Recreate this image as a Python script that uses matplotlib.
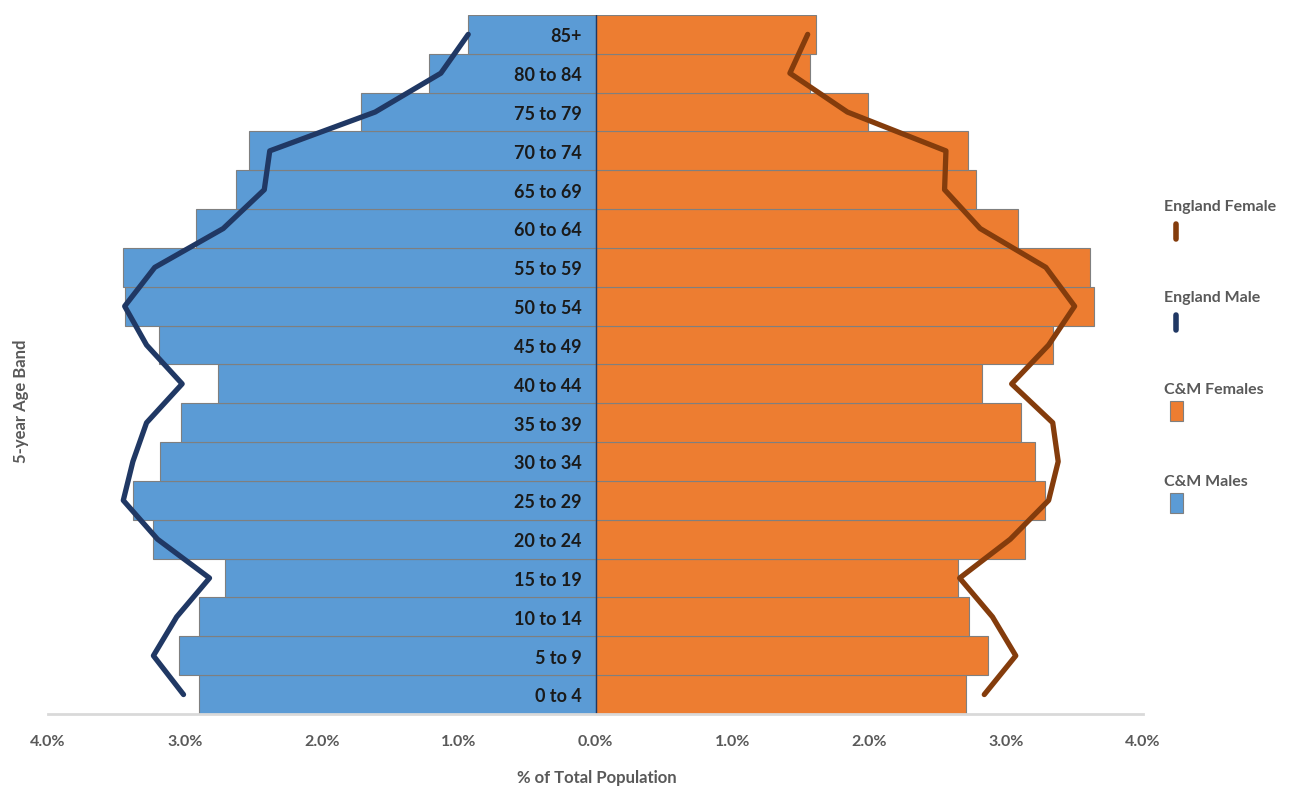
import matplotlib.pyplot as plt
from matplotlib.patches import Rectangle
from matplotlib.lines import Line2D

plt.rcParams['font.family'] = ['Lato', 'DejaVu Sans']

# Faixas etárias (de baixo para cima)
faixas = ["0 to 4", "5 to 9", "10 to 14", "15 to 19", "20 to 24", "25 to 29",
          "30 to 34", "35 to 39", "40 to 44", "45 to 49", "50 to 54", "55 to 59",
          "60 to 64", "65 to 69", "70 to 74", "75 to 79", "80 to 84", "85+"]

# % da população total
cm_homens = [2.90, 3.04, 2.90, 2.71, 3.23, 3.38, 3.18, 3.03, 2.76, 3.19,
             3.44, 3.45, 2.92, 2.63, 2.53, 1.71, 1.22, 0.93]
cm_mulheres = [2.71, 2.87, 2.73, 2.65, 3.14, 3.28, 3.21, 3.11, 2.82, 3.34,
               3.64, 3.61, 3.09, 2.78, 2.72, 1.99, 1.57, 1.61]
ing_homens = [3.01, 3.23, 3.06, 2.82, 3.20, 3.45, 3.38, 3.28, 3.02, 3.28,
              3.44, 3.22, 2.72, 2.42, 2.38, 1.61, 1.13, 0.93]
ing_mulheres = [2.84, 3.07, 2.90, 2.66, 3.03, 3.31, 3.38, 3.34, 3.04, 3.31,
                3.50, 3.29, 2.81, 2.55, 2.56, 1.84, 1.42, 1.55]

azul = '#5B9BD5'
laranja = '#ED7D31'
marinho = '#203864'
marrom = '#843C0C'

fig = plt.figure(figsize=(13.01, 7.87), dpi=100)
ax = fig.add_axes([0.0369, 0.0928, 0.8417, 0.8882])

y = range(len(faixas))
ax.barh(y, [-v for v in cm_homens], height=1.0, color=azul, edgecolor='#7F7F7F', linewidth=0.8)
ax.barh(y, cm_mulheres, height=1.0, color=laranja, edgecolor='#7F7F7F', linewidth=0.8)
ax.plot([-v for v in ing_homens], y, color=marinho, lw=3.8, solid_capstyle='round')
ax.plot(ing_mulheres, y, color=marrom, lw=3.8, solid_capstyle='round')
ax.axvline(0, color='#1F3864', lw=1)

# Rótulos das faixas ao lado do eixo central
for i, f in enumerate(faixas):
    ax.text(-0.1, i - 0.06, f, ha='right', va='center', fontsize=13, fontweight='bold', color='#1a1a1a')

ax.set_xlim(-4, 4)
ax.set_ylim(-0.5, 17.5)
ax.set_xticks([-4, -3, -2, -1, 0, 1, 2, 3, 4])
ax.set_xticklabels([f"{abs(v):.1f}%" for v in range(-4, 5)], fontsize=11.5, color='#595959', fontweight='bold')
ax.tick_params(axis='x', length=0, pad=15)
ax.set_yticks([])
for s in ['top', 'right', 'left']:
    ax.spines[s].set_visible(False)
ax.spines['bottom'].set_color('#D9D9D9')
ax.spines['bottom'].set_linewidth(2)

fig.text(0.4585, 1 / 787, "% of Total Population", ha='center', va='bottom', fontsize=12,
         color='#595959', fontweight='bold')
fig.text(0.016, 0.49, "5-year Age Band", rotation=90, ha='center', va='center', fontsize=12,
         color='#595959', fontweight='bold')

# Legenda manual à direita
legenda = [("England Female", 'line', marrom, 207),
           ("England Male", 'line', marinho, 298),
           ("C&M Females", 'box', laranja, 390),
           ("C&M Males", 'box', azul, 482)]
for nome, tipo, cor, ypx in legenda:
    fig.text(1164 / 1301, 1 - ypx / 787, nome, ha='left', va='center', fontsize=11.5,
             color='#595959', fontweight='bold')
    if tipo == 'line':
        fig.add_artist(Line2D([1176 / 1301, 1176 / 1301], [1 - (ypx + 17) / 787, 1 - (ypx + 32) / 787],
                              color=cor, lw=4, solid_capstyle='round'))
    else:
        fig.add_artist(Rectangle((1170 / 1301, 1 - (ypx + 31) / 787), 13 / 1301, 20 / 787,
                                 facecolor=cor, edgecolor='#7F7F7F', lw=0.8))

fig.savefig('out.png', dpi=100)
